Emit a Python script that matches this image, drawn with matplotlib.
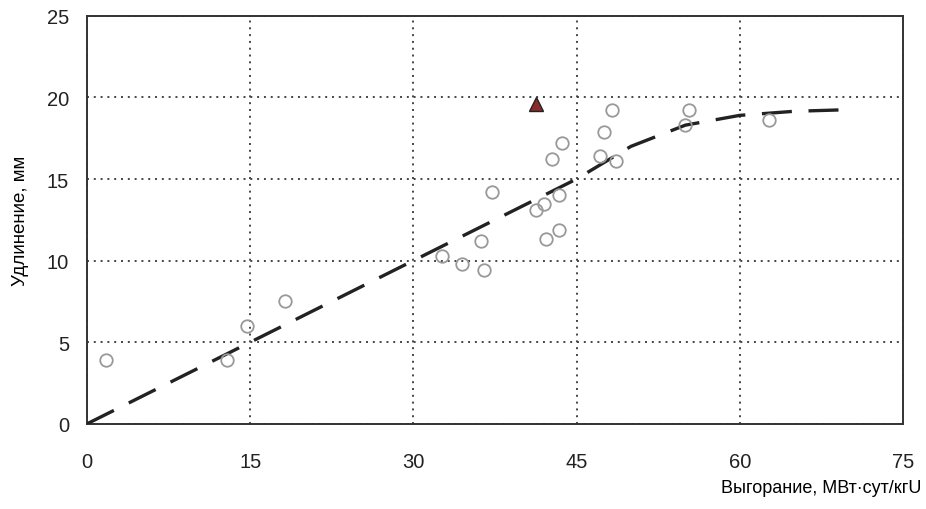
import matplotlib.pyplot as plt

plt.rcParams['font.family'] = ['Liberation Sans', 'DejaVu Sans']

# experimental points (open circles)
burnup = [1.7, 12.9, 14.7, 18.2, 32.6, 34.5, 36.2, 36.5, 37.2, 41.3, 42.0,
          42.2, 42.7, 43.4, 43.4, 43.7, 47.2, 47.5, 48.3, 48.6, 55.0, 55.3, 62.7]
elong = [3.9, 3.9, 6.0, 7.5, 10.3, 9.8, 11.2, 9.4, 14.2, 13.1, 13.5,
         11.3, 16.2, 14.0, 11.9, 17.2, 16.4, 17.9, 19.2, 16.1, 18.3, 19.2, 18.6]

# separate point (triangle)
tri_x = [41.3]
tri_y = [19.6]

# model curve
model_x = [0, 15, 30, 45, 50, 55, 60, 65, 70]
model_y = [0, 5, 10, 15, 17, 18.3, 18.9, 19.15, 19.25]

fig = plt.figure(figsize=(9.26, 5.10), dpi=100)
ax = fig.add_axes([0.094, 0.167, 0.881, 0.80])

ax.plot(model_x, model_y, color='#222222', linestyle=(0, (9, 5)), linewidth=2.4, zorder=3)
ax.plot(burnup, elong, linestyle='none', marker='o', markersize=9,
        markerfacecolor='none', markeredgecolor='#999999', markeredgewidth=1.3, zorder=4)
ax.plot(tri_x, tri_y, linestyle='none', marker='^', markersize=10,
        markerfacecolor='#8b2a2a', markeredgecolor='#222222', zorder=5)

ax.set_xlim(0, 75)
ax.set_ylim(0, 25)
ax.set_xticks([0, 15, 30, 45, 60, 75])
ax.set_yticks([0, 5, 10, 15, 20, 25])
ax.grid(True, color='#444444', linestyle=(0, (1, 2.5)), linewidth=1.4)
for s in ax.spines.values():
    s.set_color('#333333')
    s.set_linewidth(1.4)
ax.tick_params(labelsize=14.5, length=0, colors='#222222')
ax.tick_params(axis='x', pad=20)
ax.tick_params(axis='y', pad=13)

ax.set_ylabel('Удлинение, мм', fontsize=13.5)
ax.yaxis.set_label_coords(-0.081, 0.5)
ax.yaxis.label.set_verticalalignment('center')
ax.set_xlabel('Выгорание, МВт·сут/кгU', fontsize=13)
ax.xaxis.set_label_coords(1.023, -0.157)
ax.xaxis.label.set_horizontalalignment('right')
ax.xaxis.label.set_verticalalignment('center')

fig.savefig('out.png', dpi=100)
